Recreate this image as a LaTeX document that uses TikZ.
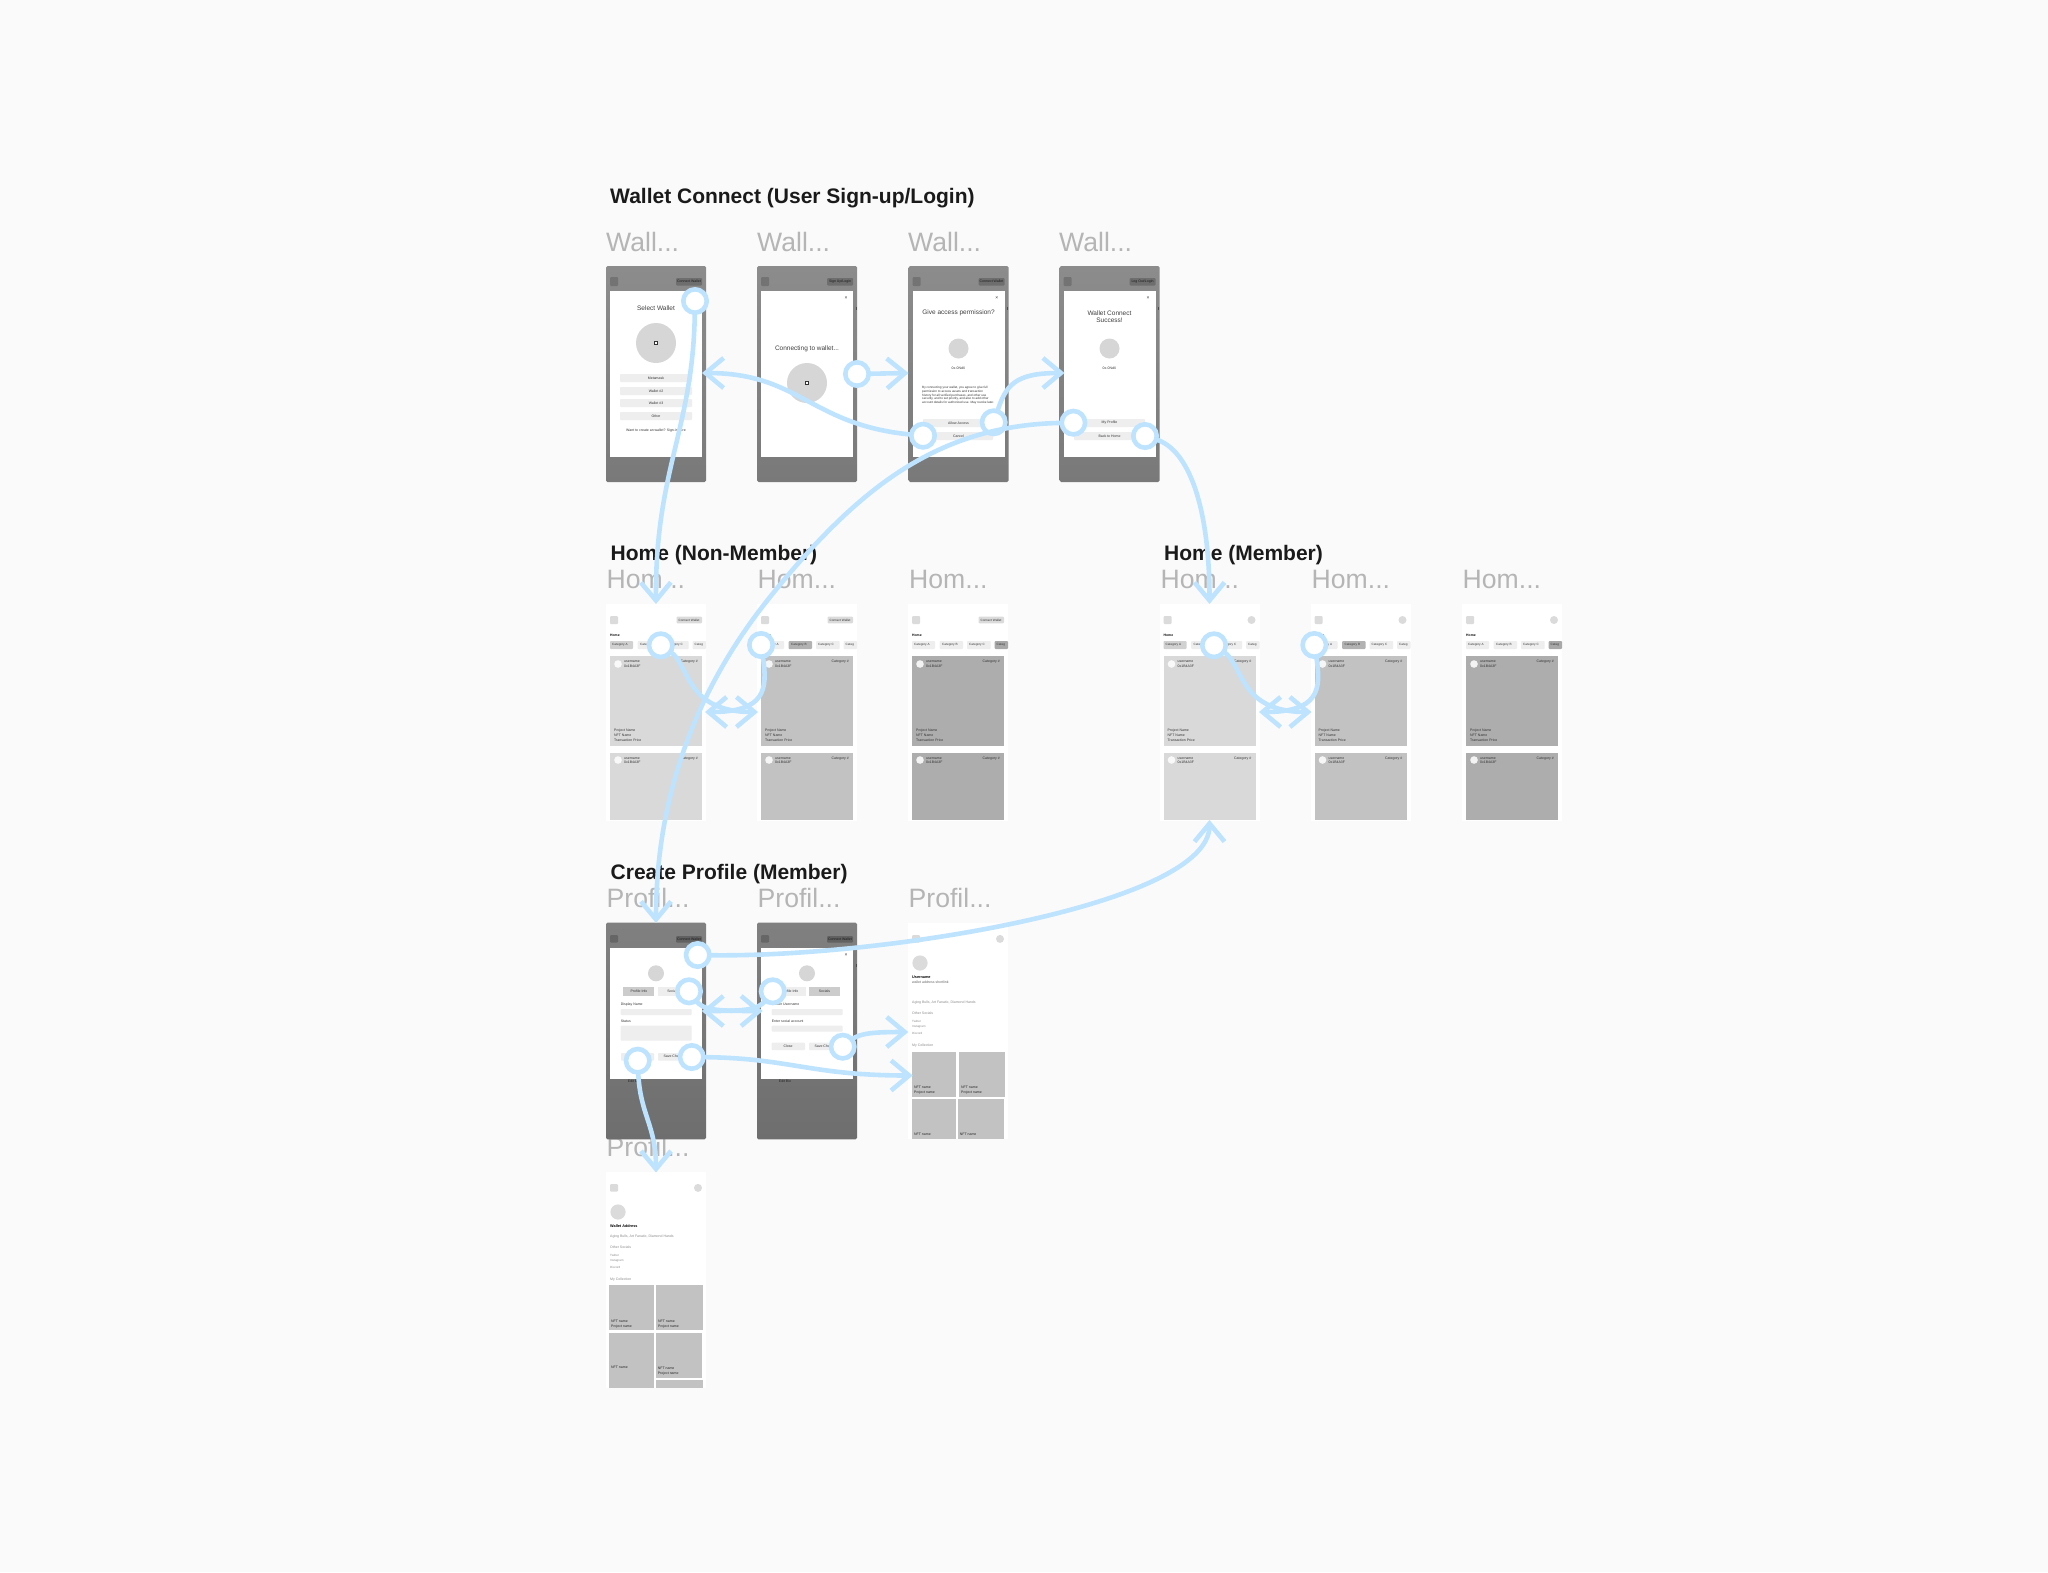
\documentclass[tikz,border=0pt]{standalone}
\usepackage{fontspec}
\setmainfont{Liberation Sans}
\usetikzlibrary{arrows.meta}
\definecolor{conn}{HTML}{BDE3FF}
\definecolor{bgc}{HTML}{FAFAFA}
\definecolor{lbl}{HTML}{B5B5B5}
\definecolor{ink}{HTML}{1A1A1A}
\definecolor{chipoff}{HTML}{EEEEEE}
\definecolor{wtop}{HTML}{8C8C8C}
\definecolor{wbot}{HTML}{797979}
\definecolor{ptop}{HTML}{808080}
\definecolor{pbot}{HTML}{6E6E6E}
\newcount\tn
\newcommand{\T}[4]{\global\advance\tn by 1 \node[#1] (t\the\tn) at (#2,#3) {#4};}
\newcommand{\R}[5]{\path[#1] (#2,#3) rectangle (#4,#5);}
\tikzset{
  heading/.style={inner sep=0,anchor=base west,text=ink,font=\fontsize{21}{24}\selectfont\bfseries},
  framelabel/.style={inner sep=0,anchor=base west,text=lbl,font=\fontsize{26.6}{30}\selectfont},
  titl/.style={inner sep=0,align=center,text=black!75,font=\fontsize{6.5}{7.5}\selectfont},
  tiny/.style={inner sep=0,text=black!80,font=\fontsize{3.5}{4}\selectfont},
  tinyl/.style={tiny,anchor=west},
  tinyr/.style={tiny,anchor=east},
  faint/.style={tinyl,text=black!45},
  boldl/.style={tinyl,text=black,font=\fontsize{3.8}{4}\selectfont\bfseries},
  btn/.style={fill=chipoff,rounded corners=0.8},
  sq/.style={fill=#1,rounded corners=1},
  startdot/.style={circle,draw=conn,fill=white,line width=4.6pt,minimum size=23.4pt,inner sep=0,outer sep=0},
  flow/.style={draw=conn,line width=4.6pt,-{Straight Barb[length=18pt,width=30pt]}},
}
% top bar and white modal of a dimmed screen
\newcommand{\dimmed}[7]{% x, top, bottom, modal top, modal bottom, colours
  \path[top color=#6,bottom color=#7,rounded corners=1.5] (#1,#2) rectangle (#1+100,#3);
  \R{fill=white}{#1+4}{#4}{#1+96}{#5}
}
\newcommand{\walletscreen}[2]{% x, button text
  \dimmed{#1}{266}{482}{290.7}{457}{wtop}{wbot}
  \R{sq=black!55}{#1+4}{277}{#1+12}{286}
  \R{sq=black!57}{#1+70}{278}{#1+96}{285.5}
  \T{tiny,text=black!90}{#1+83}{281.7}{#2}
}
\newcommand{\closex}[2]{% x, y
  \T{inner sep=0,text=black!80,font=\fontsize{5}{5}\selectfont}{#1}{#2}{×}
  \R{fill=black!70}{#1+10}{#2+8.5}{#1+11}{#2+12}
}
\newcommand{\photo}[2]{% x, y
  \R{fill=black!80}{#1-2.2}{#2-2.2}{#1+2.2}{#2+2.2}
  \R{fill=white}{#1-1.4}{#2-1.4}{#1+1.4}{#2+0.6}
}
\newcommand{\chip}[5]{% x1, x2, colour, text, text x
  \R{fill=#3,rounded corners=0.8}{#1}{641}{#2}{649}
  \T{tinyl,font=\fontsize{3.1}{4}\selectfont}{#5}{645}{#4}
}
\newcommand{\homescreen}[6]{% x, card colour, chip1,chip2,chip4 colour, member?
  \R{fill=white}{#1}{604}{#1+100}{820.5}
  \R{sq=black!14}{#1+4}{616}{#1+12}{624}
  \ifnum#6=0
    \R{sq=black!14}{#1+70.5}{616.7}{#1+96}{623.3}
    \T{tiny,font=\fontsize{3.1}{4}\selectfont}{#1+83}{620}{Connect Wallet}
  \else
    \path[fill=black!14] (#1+92,620) circle (4);
  \fi
  \T{boldl,font=\fontsize{3.4}{4}\selectfont\bfseries}{#1+4}{635.7}{Home}
  \chip{#1+4}{#1+27}{#3}{Category A}{#1+6}
  \chip{#1+31.7}{#1+55}{#4}{Category B}{#1+34}
  \chip{#1+59}{#1+82.7}{chipoff}{Category C}{#1+61}
  \chip{#1+86.7}{#1+100}{#5}{Categ}{#1+88.5}
  \R{fill=#2}{#1+4}{656}{#1+96}{746}
  \R{fill=#2}{#1+4}{752.7}{#1+96}{820}
  \path[fill=white!85!#2] (#1+12,664) circle (3.8);
  \T{tinyl}{#1+18}{662}{username}
  \T{tinyl}{#1+18}{666}{0x1B4A3F}
  \T{tinyr}{#1+92}{662}{Category \#}
  \T{tinyl}{#1+8}{730.7}{Project Name}
  \T{tinyl}{#1+8}{735.4}{NFT Name}
  \T{tinyl}{#1+8}{740.2}{Transaction Price}
  \path[fill=white!85!#2] (#1+12,760) circle (3.8);
  \T{tinyl}{#1+18}{758.7}{username}
  \T{tinyl}{#1+18}{762.4}{0x1B4A3F}
  \T{tinyr}{#1+92}{758.7}{Category \#}
}
\newcommand{\nftcell}[6]{% x1,y1,x2,y2,name y,project y
  \R{fill=black!24}{#1}{#2}{#3}{#4}
  \T{tinyl,text=black!85}{#1+2}{#5}{NFT name}
  \ifdim#6pt>0pt \T{tinyl,text=black!85}{#1+2}{#6}{Project name}\fi
}
\newcommand{\profilehead}[4]{% x, frame top, first line, y of the details below it
  \R{fill=white}{#1}{#2}{#1+100}{#2+216.5}
  \R{sq=black!14}{#1+4}{#2+12.3}{#1+12}{#2+20}
  \path[fill=black!14] (#1+92,#2+16.2) circle (4);
  \path[fill=black!14] (#1+12,#2+40.3) circle (7.6);
  \T{boldl}{#1+4}{#2+54.3}{#3}
  \T{faint}{#1+4}{#4}{Aging Bulls, Art Fanatic, Diamond Hands}
  \T{faint}{#1+4}{#4+10.3}{Other Socials}
  \T{faint,font=\fontsize{3}{4}\selectfont}{#1+4}{#4+18.3}{Twitter}
  \T{faint,font=\fontsize{3}{4}\selectfont}{#1+4}{#4+24.3}{Instagram}
  \T{faint,font=\fontsize{3}{4}\selectfont}{#1+4}{#4+30.3}{Discord}
  \T{faint}{#1+4}{#4+43}{My Collection}
}
\begin{document}
\begin{tikzpicture}[x=1pt,y=-1pt]
\useasboundingbox (0,0) rectangle (2048,1572);
\path[fill=bgc] (0,0) rectangle (2048,1572);

% ---------- headings and frame labels
\T{heading}{610}{203}{Wallet Connect (User Sign-up/Login)}
\T{heading}{610.5}{560.5}{Home (Non-Member)}
\T{heading}{1164}{560.5}{Home (Member)}
\T{heading}{610.5}{879.3}{Create Profile (Member)}
\T{framelabel}{606}{251}{Wall...}
\T{framelabel}{757}{251}{Wall...}
\T{framelabel}{908}{251}{Wall...}
\T{framelabel}{1059}{251}{Wall...}
\T{framelabel}{606.5}{588}{Hom...}
\T{framelabel}{757.5}{588}{Hom...}
\T{framelabel}{909}{588}{Hom...}
\T{framelabel}{1160.5}{588}{Hom...}
\T{framelabel}{1311.5}{588}{Hom...}
\T{framelabel}{1462.5}{588}{Hom...}
\T{framelabel}{606.5}{907}{Profil...}
\T{framelabel}{757.5}{907}{Profil...}
\T{framelabel}{908.5}{907}{Profil...}
\T{framelabel}{606.5}{1156}{Profil...}

% ---------- row 1: wallet connect
\walletscreen{606}{Connect Wallet}
\T{titl}{656}{308.5}{Select Wallet}
\path[fill=black!16] (656,343) circle (20);
\photo{656}{343}
\R{btn}{620}{374}{692}{382}  \T{tiny}{656}{378}{Metamask}
\R{btn}{620}{387}{692}{395}  \T{tiny}{656}{391}{Wallet \#2}
\R{btn}{620}{399}{692}{407}  \T{tiny}{656}{403}{Wallet \#3}
\R{btn}{620}{412}{692}{420}  \T{tiny}{656}{416}{Other}
\T{tiny}{656}{431}{Want to create an wallet? Sign-in here}

\walletscreen{757}{Sign Up/Login}
\closex{846}{298}
\T{titl}{807}{349}{Connecting to wallet...}
\path[fill=black!16] (807,383) circle (20);
\photo{807}{383}

\walletscreen{908.5}{Connect Wallet}
\closex{996.8}{298}
\T{titl}{958.5}{313}{Give access permission?}
\path[fill=black!16] (958.5,348.5) circle (10);
\T{tiny}{958.5}{368.7}{0x-0NdX}
\T{tinyl,font=\fontsize{3.1}{4}\selectfont}{922}{388}{By connecting your wallet, you agree to give full}
\T{tinyl,font=\fontsize{3.1}{4}\selectfont}{922}{391.7}{permission to access assets and transaction}
\T{tinyl,font=\fontsize{3.1}{4}\selectfont}{922}{395.3}{history for all verified purchases, and other use}
\T{tinyl,font=\fontsize{3.1}{4}\selectfont}{922}{399}{security, and to set priority, and also to add other}
\T{tinyl,font=\fontsize{3.1}{4}\selectfont}{922}{402.7}{account details for authorized use. May revoke later.}
\R{btn}{923}{419}{993}{427}  \T{tiny}{958.5}{423}{Allow Access}
\R{btn}{923}{432}{993}{440}  \T{tiny}{958.5}{436}{Cancel}

\walletscreen{1059.5}{Log Out/Login}
\closex{1148}{298}
\T{titl}{1109.5}{316.5}{Wallet Connect\\Success!}
\path[fill=black!16] (1109.5,348.5) circle (10);
\T{tiny}{1109.5}{368.7}{0x-0NdX}
\R{btn}{1074}{419}{1145}{427}  \T{tiny}{1109.5}{423}{My Profile}
\R{btn}{1074}{432}{1145}{440}  \T{tiny}{1109.5}{436}{Back to Home}

% ---------- row 2: home
\homescreen{606}{black!15}{black!18}{chipoff}{chipoff}{0}
\homescreen{757}{black!24}{chipoff}{black!30}{chipoff}{0}
\homescreen{908}{black!32}{chipoff}{chipoff}{black!34}{0}
\homescreen{1159.5}{black!15}{black!18}{chipoff}{chipoff}{1}
\homescreen{1310.5}{black!24}{chipoff}{black!30}{chipoff}{1}
\homescreen{1462}{black!32}{chipoff}{chipoff}{black!34}{1}

% ---------- row 3: create profile
\dimmed{606}{922.7}{1139.3}{947.7}{1078.7}{ptop}{pbot}
\R{sq=black!60}{610}{935}{618}{942.7}
\R{sq=black!62}{676}{936}{702}{942.7}
\T{tiny,text=black!90}{689}{939.3}{Connect Wallet}
\path[fill=black!16] (656,973.3) circle (8);
\R{fill=black!20}{623}{987}{654}{996}  \T{tiny}{639}{991.5}{Profile Info}
\R{fill=chipoff}{658}{987}{689}{996}  \T{tiny}{673}{991.5}{Socials}
\T{tinyl}{620.7}{1004.3}{Display Name}
\R{btn}{620.7}{1009}{691.7}{1015}
\T{tinyl}{620.7}{1021}{Status}
\R{btn}{620.7}{1025.7}{691.7}{1040.7}
\R{btn}{621}{1053}{654}{1060.7}  \T{tiny}{637}{1057}{Close}
\R{btn}{658}{1053}{692}{1060.7}  \T{tiny}{675}{1057}{Save Changes}
\T{tiny,text=black!85}{634}{1081.5}{Edit Bio}

\dimmed{757}{922.7}{1139.3}{947.7}{1078.7}{ptop}{pbot}
\R{sq=black!60}{761}{935}{769}{942.7}
\R{sq=black!62}{827}{936}{853}{942.7}
\T{tiny,text=black!90}{840}{939.3}{Connect Wallet}
\closex{846}{955}
\path[fill=black!16] (807,973.3) circle (8);
\R{fill=chipoff}{774}{987}{806}{996}  \T{tiny}{790}{991.5}{Profile Info}
\R{fill=black!20}{809}{987}{840}{996}  \T{tiny}{824.5}{991.5}{Socials}
\T{tinyl}{771.7}{1004.3}{Twitter Username}
\R{btn}{771.7}{1009}{842.7}{1015}
\T{tinyl}{771.7}{1021}{Enter social account}
\R{btn}{771.7}{1025.7}{842.7}{1031.7}
\R{btn}{771.7}{1042.7}{805}{1050}  \T{tiny}{788}{1046.5}{Close}
\R{btn}{809}{1042.7}{842.7}{1050}  \T{tiny}{826}{1046.5}{Save Changes}
\T{tiny,text=black!85}{785}{1081.5}{Edit Bio}

\profilehead{908}{922.7}{Username}{1002.7}
\T{tinyl,text=black!60}{912}{982.2}{wallet address shortlink}
\nftcell{912}{1051.7}{956}{1096.7}{1087}{1093}
\nftcell{959}{1051.7}{1005}{1096.7}{1087}{1093}
\nftcell{912}{1099}{956}{1139}{1134}{0}
\nftcell{957.7}{1099}{1004}{1139}{1134}{0}

% ---------- row 4: profile after skip
\profilehead{606}{1171.7}{Wallet Address}{1236.7}
\nftcell{609}{1285}{654}{1330}{1321}{1327}
\nftcell{656}{1285}{703}{1330}{1321}{1327}
\nftcell{609}{1333}{653.7}{1388}{1367}{0}
\nftcell{655.7}{1333}{702}{1378}{1368}{1374}
\R{fill=black!24}{656}{1380}{703}{1388}

% ---------- connector end points
\coordinate (homeNonTop) at (656,604);
\coordinate (homeMemTop) at (1209.5,604);
\coordinate (homeMemBot) at (1209.5,820);
\coordinate (profTop)    at (656,923);
\coordinate (walletRight) at (702,373);
\coordinate (accessLeft) at (908.5,373);
\coordinate (successLeft) at (1064.5,373);
\coordinate (home2Left)  at (758,712);
\coordinate (home1Right) at (705,712);
\coordinate (mhome2Left) at (1311.5,712);
\coordinate (mhome1Right) at (1259,712);
\coordinate (social2Left) at (762.7,1011);
\coordinate (social1Right) at (701.7,1011);
\coordinate (pageA) at (908.3,1032);
\coordinate (pageB) at (912.7,1075.5);
\coordinate (pageC) at (656,1172.5);

% ---------- connector start dots
\node[startdot] (c1)  at (695,301) {};
\node[startdot] (c2)  at (923,435.7) {};
\node[startdot] (c3)  at (857,374) {};
\node[startdot] (c4)  at (993.7,422.3) {};
\node[startdot] (c5)  at (1073.4,422.7) {};
\node[startdot] (c6)  at (1145,436) {};
\node[startdot] (c7)  at (660.7,645.3) {};
\node[startdot] (c8)  at (761,645) {};
\node[startdot] (c9)  at (1214,645.3) {};
\node[startdot] (c10) at (1314.3,645) {};
\node[startdot] (c11) at (697.7,955) {};
\node[startdot] (c12) at (689,991.3) {};
\node[startdot] (c13) at (772.7,991.3) {};
\node[startdot] (c14) at (842.7,1046.7) {};
\node[startdot] (c15) at (691.7,1057) {};
\node[startdot] (c16) at (637.7,1060.7) {};

% ---------- connectors
\draw[flow] (c1)  .. controls (693,430) and (655,470) .. (homeNonTop);
\draw[flow] (c2)  .. controls (810,425) and (800,373) .. (walletRight);
\draw[flow] (c3)  -- (accessLeft);
\draw[flow] (c4)  .. controls (1006,385) and (1015,373) .. (successLeft);
\draw[flow] (c5)  .. controls (940,425) and (860,485) .. (770,597)
                  .. controls (700,684) and (656,790) .. (profTop);
\draw[flow] (c6)  .. controls (1190,450) and (1209.5,510) .. (homeMemTop);
\draw[flow] (c7)  .. controls (690,665) and (685,712) .. (home2Left);
\draw[flow] (c8)  .. controls (768,690) and (765,712) .. (home1Right);
\draw[flow] (c9)  .. controls (1243.7,665) and (1238.7,712) .. (mhome2Left);
\draw[flow] (c10) .. controls (1321.7,690) and (1318.7,712) .. (mhome1Right);
\draw[flow] (c11) .. controls (880,958) and (1209.5,905) .. (homeMemBot);
\draw[flow] (c12) .. controls (703,1010) and (715,1011) .. (social2Left);
\draw[flow] (c13) .. controls (758,1010) and (745,1011) .. (social1Right);
\draw[flow] (c14) .. controls (860,1033) and (875,1032) .. (pageA);
\draw[flow] (c15) .. controls (790,1058) and (810,1075.5) .. (pageB);
\draw[flow] (c16) .. controls (640,1115) and (656,1125) .. (pageC);
\end{tikzpicture}
\end{document}
